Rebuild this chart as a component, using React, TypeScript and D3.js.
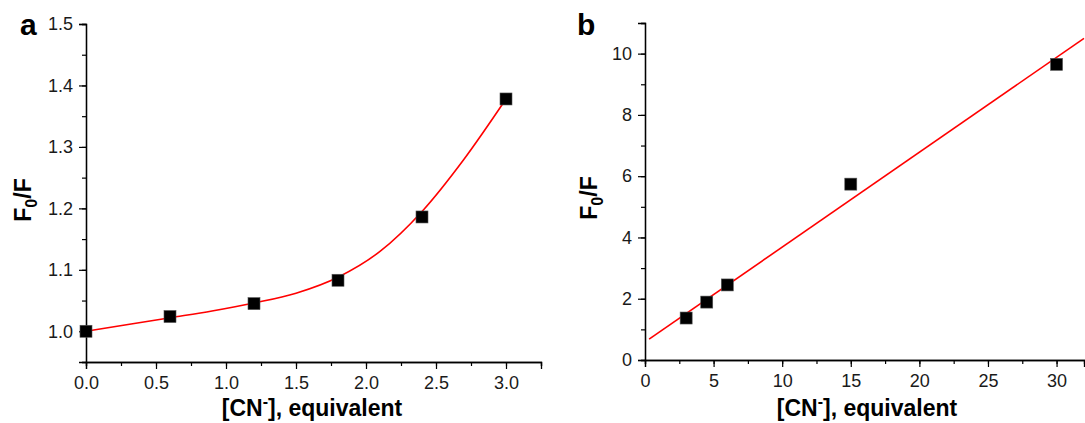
import React, { useEffect, useRef } from 'react';
import * as d3 from 'd3';

// panel a: F0/F vs equivalents of cyanide
const aX = [0, 0.6, 1.2, 1.8, 2.4, 3.0];
const aY = [1.0, 1.024, 1.045, 1.083, 1.186, 1.378];
// fitted curve
const aFitX = [0, 0.3, 0.6, 0.9, 1.2, 1.5, 1.8, 2.1, 2.4, 2.7, 3.0];
const aFitY = [1.0, 1.011, 1.022, 1.033, 1.046, 1.062, 1.088, 1.13, 1.195, 1.28, 1.378];
const aXTicks = [0, 0.5, 1.0, 1.5, 2.0, 2.5, 3.0];
const aYTicks = [1.0, 1.1, 1.2, 1.3, 1.4, 1.5];

// panel b: larger excess of cyanide
const bX = [3, 4.5, 6, 15, 30];
const bY = [1.37, 1.89, 2.45, 5.74, 9.65];
const bFitX = [0.3, 32];
const bFitY = [0.68, 10.5];
const bXTicks = [0, 5, 10, 15, 20, 25, 30];
const bYTicks = [0, 2, 4, 6, 8, 10];

const FONT = 'Liberation Sans, Arial, sans-serif';

type Panel = {
  label: string;
  left: number; right: number; top: number; bottom: number;
  xDomain: [number, number]; yDomain: [number, number];
  xTicks: number[]; yTicks: number[];
  xMinor: number; yMinor: number;
  xFmt: (d: number) => string; yFmt: (d: number) => string;
  px: number[]; py: number[];
  fx: number[]; fy: number[];
  curved: boolean;
  labelPos: [number, number];
  yTitleX: number; yTitleY: number;
  xTitleX: number;
};

const App = () => {
  const svgRef = useRef<SVGSVGElement>(null);

  useEffect(() => {
    const svg = d3.select(svgRef.current);
    svg.selectAll('*').remove();

    const panels: Panel[] = [
      {
        label: 'a', left: 86, right: 541, top: 24, bottom: 362,
        xDomain: [0, 3.25], yDomain: [0.95, 1.5],
        xTicks: aXTicks, yTicks: aYTicks, xMinor: 0.25, yMinor: 0.05,
        xFmt: d3.format('.1f'), yFmt: d3.format('.1f'),
        px: aX, py: aY, fx: aFitX, fy: aFitY, curved: true,
        labelPos: [20, 35], yTitleX: 31, yTitleY: 200, xTitleX: 312,
      },
      {
        label: 'b', left: 645, right: 1084, top: 23, bottom: 360,
        xDomain: [0, 32], yDomain: [0, 11],
        xTicks: bXTicks, yTicks: bYTicks, xMinor: 2.5, yMinor: 1,
        xFmt: d3.format('d'), yFmt: d3.format('d'),
        px: bX, py: bY, fx: bFitX, fy: bFitY, curved: false,
        labelPos: [577, 35], yTitleX: 597, yTitleY: 198, xTitleX: 867,
      },
    ];

    panels.forEach(p => {
      const x = d3.scaleLinear().domain(p.xDomain).range([p.left, p.right]);
      const y = d3.scaleLinear().domain(p.yDomain).range([p.bottom, p.top]);
      const g = svg.append('g');

      // minor ticks
      const xm = d3.range(p.xDomain[0], p.xDomain[1] + 1e-9, p.xMinor);
      const ym = d3.range(p.yDomain[0], p.yDomain[1] + 1e-9, p.yMinor);

      const xAxis = d3.axisBottom(x).tickValues(xm).tickSize(4).tickFormat(() => '');
      g.append('g').attr('transform', `translate(0,${p.bottom})`).call(xAxis);
      const xMajor = d3.axisBottom(x).tickValues(p.xTicks).tickSize(7).tickPadding(7)
        .tickFormat(d => p.xFmt(d as number));
      g.append('g').attr('transform', `translate(0,${p.bottom})`).call(xMajor);

      const yAxis = d3.axisLeft(y).tickValues(ym).tickSize(4).tickFormat(() => '');
      g.append('g').attr('transform', `translate(${p.left},0)`).call(yAxis);
      const yMajor = d3.axisLeft(y).tickValues(p.yTicks).tickSize(7).tickPadding(6)
        .tickFormat(d => p.yFmt(d as number));
      g.append('g').attr('transform', `translate(${p.left},0)`).call(yMajor);

      g.selectAll('.domain').attr('stroke', '#000').attr('stroke-width', 1.3);
      g.selectAll('.tick line').attr('stroke', '#000').attr('stroke-width', 1.2);
      g.selectAll('.tick text')
        .attr('font-family', FONT).attr('font-size', 18).attr('fill', '#1a1a1a');

      // fit line
      const line = d3.line<number>()
        .x((_, i) => x(p.fx[i]))
        .y(d => y(d))
        .curve(p.curved ? d3.curveMonotoneX : d3.curveLinear);
      g.append('path')
        .datum(p.fy)
        .attr('d', line)
        .attr('fill', 'none')
        .attr('stroke', '#ff0000')
        .attr('stroke-width', 1.6);

      // data squares
      const s = 12;
      g.selectAll('rect.pt')
        .data(p.py)
        .join('rect')
        .attr('class', 'pt')
        .attr('x', (_, i) => x(p.px[i]) - s / 2)
        .attr('y', d => y(d) - s / 2)
        .attr('width', s)
        .attr('height', s)
        .attr('fill', '#000')
        .attr('stroke', '#555')
        .attr('stroke-width', 0.6);

      // panel letter
      g.append('text')
        .attr('x', p.labelPos[0]).attr('y', p.labelPos[1])
        .attr('font-family', FONT).attr('font-size', 30).attr('font-weight', 'bold')
        .text(p.label);

      // y title F0/F
      const yt = g.append('text')
        .attr('transform', `translate(${p.yTitleX},${p.yTitleY}) rotate(-90)`)
        .attr('text-anchor', 'middle')
        .attr('font-family', FONT).attr('font-size', 23).attr('font-weight', 'bold');
      yt.append('tspan').text('F');
      yt.append('tspan').attr('font-size', 16).attr('dy', 6).text('0');
      yt.append('tspan').attr('dy', -6).text('/F');

      // x title
      const xt = g.append('text')
        .attr('x', p.xTitleX).attr('y', 416)
        .attr('text-anchor', 'middle')
        .attr('font-family', FONT).attr('font-size', 23).attr('font-weight', 'bold');
      xt.append('tspan').text('[CN');
      xt.append('tspan').attr('font-size', 16).attr('dy', -9).text('-');
      xt.append('tspan').attr('dy', 9).text('], equivalent');
    });
  }, []);

  return (
    <svg
      ref={svgRef}
      width={1085}
      height={423}
      style={{ position: 'absolute', left: 0, top: 0, background: '#fff' }}
    />
  );
};

export default App;
